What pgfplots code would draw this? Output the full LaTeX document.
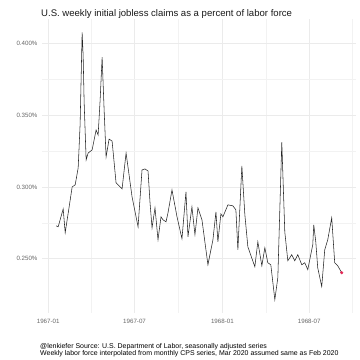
\documentclass[border=0pt]{standalone}
\usepackage{fontspec}
\setmainfont{Liberation Sans}
\usepackage{pgfplots}
\pgfplotsset{compat=1.18}
\definecolor{dotred}{RGB}{226,40,86}
\begin{document}
\begin{tikzpicture}[x=1bp,y=1bp]
\begin{axis}[
  at={(0,0)}, anchor=south west,
  scale only axis, width=314bp, height=294bp,
  xmin=-13, xmax=645, ymin=0.2122, ymax=0.4169,
  xtick={0,181,365,547},
  xticklabels={1967-01,1967-07,1968-01,1968-07},
  minor xtick={91,273,456,638},
  ytick={0.25,0.30,0.35,0.40},
  yticklabels={0.250\%,0.300\%,0.350\%,0.400\%},
  minor ytick={0.275,0.325,0.375},
  grid=both,
  major grid style={draw=black!8, line width=0.6bp},
  minor grid style={draw=black!5, line width=0.4bp},
  axis line style={draw=none},
  major tick length=0pt, minor tick length=0pt,
  tick style={draw=none},
  ticklabel style={font=\fontsize{6.2}{7}\selectfont, text=black!60},
  xticklabel style={yshift=-3bp},
  yticklabel style={xshift=-1bp},
  clip=false,
]
\addplot[black!85, line width=0.55bp] coordinates {
(16.7,0.2729) (20.9,0.2722) (31.4,0.2847) (35.6,0.2681) (43.9,0.2861)
(50.2,0.3000) (56.5,0.3014) (62.8,0.3132) (66.9,0.3438) (71.1,0.4076)
(73.2,0.3917) (75.3,0.3590) (79.5,0.3188) (83.7,0.3236) (92.0,0.3257)
(100.4,0.3396) (104.6,0.3361) (108.8,0.3604) (113.0,0.3903) (117.2,0.3535)
(121.3,0.3208) (127.6,0.3333) (133.9,0.3319) (142.2,0.3028) (146.4,0.3014)
(154.8,0.2986) (163.2,0.3236) (175.7,0.2931) (188.3,0.2722) (196.6,0.3118)
(202.9,0.3125) (209.2,0.3111) (213.4,0.2889) (217.6,0.2715) (223.8,0.2854)
(230.1,0.2632) (236.4,0.2792) (240.6,0.2771) (246.9,0.2757) (251.0,0.2819)
(259.4,0.2979) (269.9,0.2792) (280.3,0.2639) (288.7,0.2965) (292.9,0.2653)
(301.2,0.2861) (307.5,0.2667) (313.8,0.2854) (322.2,0.2771) (334.7,0.2458)
(345.2,0.2632) (351.5,0.2826) (355.6,0.2618) (361.9,0.2812) (366.1,0.2792)
(376.6,0.2875) (387.0,0.2868) (393.3,0.2840) (397.5,0.2562) (405.8,0.3146)
(412.1,0.2806) (418.4,0.2583) (433.0,0.2444) (439.3,0.2618) (447.7,0.2451)
(454.0,0.2576) (460.2,0.2472) (466.5,0.2458) (474.9,0.2215) (481.2,0.2368)
(489.5,0.3312) (495.8,0.2687) (502.1,0.2486) (510.4,0.2528) (516.7,0.2486)
(523.0,0.2528) (531.4,0.2458) (537.6,0.2472) (543.9,0.2424) (554.4,0.2597)
(556.5,0.2736) (560.7,0.2618) (564.8,0.2437) (573.2,0.2306) (579.5,0.2562)
(585.8,0.2632) (594.1,0.2785) (600.4,0.2472) (606.7,0.2451) (615.0,0.2403)
};
\addplot[only marks, mark=*, mark size=1.4bp, dotred] coordinates {(615.0,0.2403)};
\end{axis}
\node[anchor=base west, inner sep=0pt, font=\fontsize{9.6}{11}\selectfont, text=black!90]
  at (-1,297) {U.S. weekly initial jobless claims as a percent of labor force};
\node[anchor=north west, inner sep=0pt, align=left, font=\fontsize{7}{6.3}\selectfont]
  at (-2,-30) {@lenkiefer Source: U.S. Department of Labor, seasonally adjusted series\\Weekly labor force interpolated from monthly CPS series, Mar 2020 assumed same as Feb 2020};
\path (-42,-47) rectangle (318,313);
\end{tikzpicture}
\end{document}
